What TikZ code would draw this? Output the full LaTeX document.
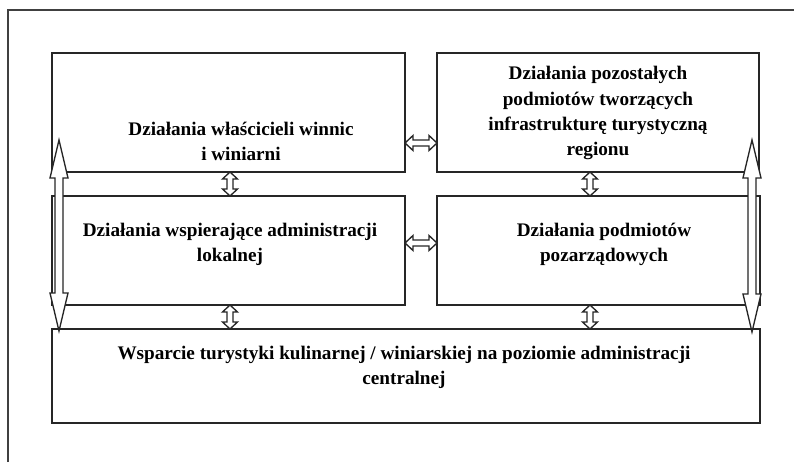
\documentclass[tikz,border=0pt]{standalone}
\usepackage{fontspec}
\setmainfont{Liberation Serif}
\usetikzlibrary{calc}
\tikzset{
  box/.style={draw=black!85, line width=1.3pt, fill=white},
  lbl/.style={align=center, font=\bfseries\fontsize{14.4pt}{18.8pt}\selectfont, inner sep=0pt},
  arr/.style={draw=black!85, line width=1pt, fill=white, line join=miter},
  frame/.style={draw=black!75, line width=1.3pt}
}
% vertical hollow double arrow: x, ytop, ybottom, half shaft, half head, head length
\newcommand{\vdarr}[6]{\draw[arr] (#1,#2) -- (#1+#5,#2+#6) -- (#1+#4,#2+#6) -- (#1+#4,#3-#6) -- (#1+#5,#3-#6) -- (#1,#3) -- (#1-#5,#3-#6) -- (#1-#4,#3-#6) -- (#1-#4,#2+#6) -- (#1-#5,#2+#6) -- cycle;}
% horizontal hollow double arrow: y, xleft, xright, half shaft, half head, head length
\newcommand{\hdarr}[6]{\draw[arr] (#2,#1) -- (#2+#6,#1-#5) -- (#2+#6,#1-#4) -- (#3-#6,#1-#4) -- (#3-#6,#1-#5) -- (#3,#1) -- (#3-#6,#1+#5) -- (#3-#6,#1+#4) -- (#2+#6,#1+#4) -- (#2+#6,#1+#5) -- cycle;}
\begin{document}
\begin{tikzpicture}[x=0.75pt,y=-0.75pt]
\useasboundingbox (0,0) rectangle (794,462);
\draw[frame] (8,462) -- (8,10) -- (794,10);

% boxes
\draw[box] (52,53) rectangle (405,172);
\draw[box] (437,53) rectangle (759,172);
\draw[box] (52,196) rectangle (405,305);
\draw[box] (437,196) rectangle (760,305);
\draw[box] (52,329) rectangle (760,423);

% labels
\node[lbl] (t1) at (241,141) {Działania właścicieli winnic\\i winiarni};
\node[lbl] (t2) at (598,113) {Działania pozostałych\\podmiotów tworzących\\infrastrukturę turystyczną\\regionu};
\node[lbl] (t3) at (230,244) {Działania wspierające administracji\\lokalnej};
\node[lbl] (t4) at (604,244) {Działania podmiotów\\pozarządowych};
\node[lbl] (t5) at (404,367) {Wsparcie turystyki kulinarnej / winiarskiej na poziomie administracji\\centralnej};

% short arrows
\hdarr{143}{405}{437}{3}{7.5}{8}
\hdarr{243}{405}{437}{3}{7.5}{8}
\vdarr{230}{172}{196}{3}{7.5}{7}
\vdarr{590}{172}{196}{3}{7.5}{7}
\vdarr{230}{305}{329}{3}{7.5}{7}
\vdarr{590}{305}{329}{3}{7.5}{7}

% long arrows
\vdarr{59}{140}{331}{4}{9}{38}
\vdarr{752}{140}{332}{4}{9}{38}
\end{tikzpicture}
\end{document}
